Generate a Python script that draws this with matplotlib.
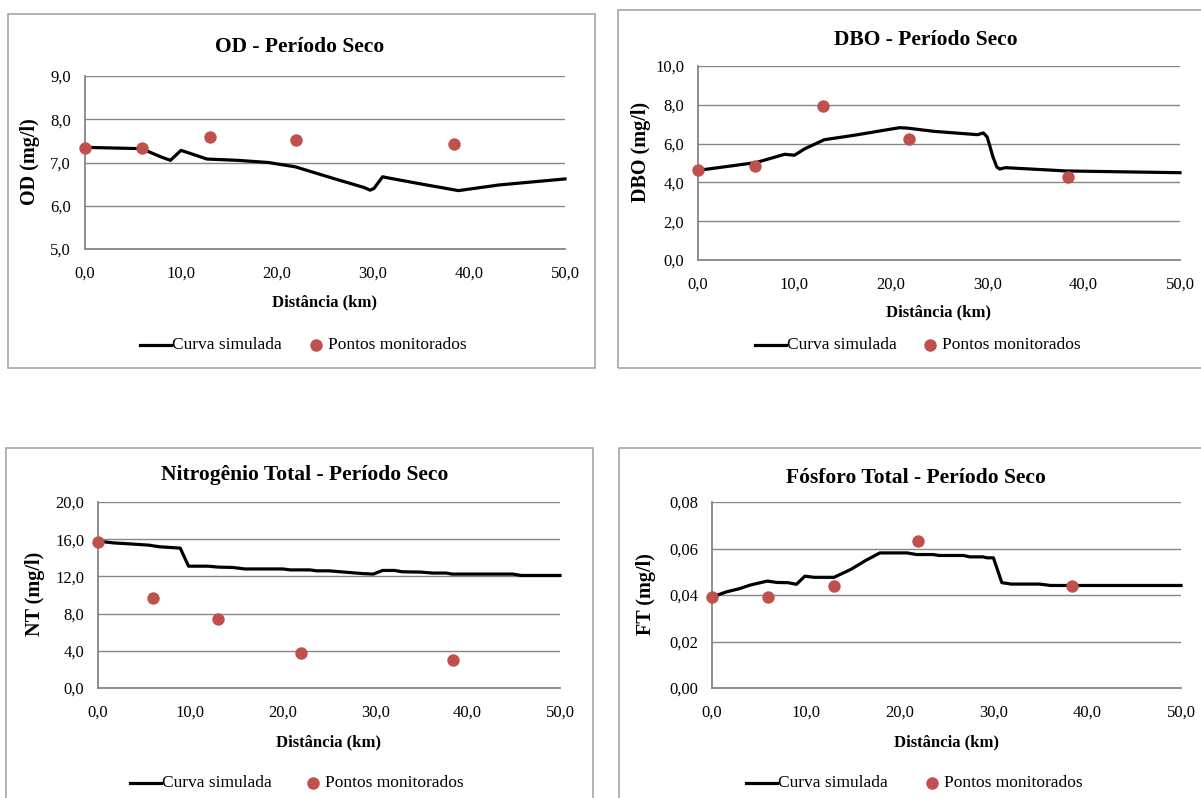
import matplotlib
matplotlib.use("Agg")
import matplotlib.pyplot as plt
from matplotlib.patches import Rectangle
from matplotlib.lines import Line2D
from matplotlib.ticker import FuncFormatter

plt.rcParams["font.family"] = ["Liberation Serif", "DejaVu Serif"]

# ---- data: distance along the river (km) and concentrations ----
od_sim_x = [0, 5.9, 7.9, 8.9, 10.0, 11.1, 12.7, 15.9, 19.1, 21.9, 25.9, 29.1, 29.7, 30.1,
            31.0, 31.9, 35.1, 38.9, 43.1, 50.0]
od_sim_y = [7.35, 7.32, 7.13, 7.05, 7.28, 7.20, 7.08, 7.05, 7.00, 6.90, 6.63, 6.42, 6.36, 6.40,
            6.67, 6.63, 6.50, 6.35, 6.48, 6.62]
od_obs_x = [0.0, 5.9, 13.0, 22.0, 38.4]
od_obs_y = [7.33, 7.33, 7.59, 7.52, 7.42]

dbo_sim_x = [0, 6.0, 9.0, 10.0, 11.1, 13.1, 16.2, 20.9, 21.7, 24.5, 29.0, 29.6, 30.0,
             30.6, 31.0, 31.3, 31.9, 38.2, 50.0]
dbo_sim_y = [4.62, 5.02, 5.45, 5.40, 5.74, 6.20, 6.43, 6.82, 6.80, 6.63, 6.46, 6.55, 6.34,
             5.31, 4.79, 4.69, 4.76, 4.59, 4.50]
dbo_obs_x = [0.0, 5.9, 13.0, 21.9, 38.4]
dbo_obs_y = [4.62, 4.85, 7.92, 6.25, 4.28]

nt_sim_x = [0, 1.7, 3.4, 5.5, 6.7, 8.0, 8.9, 9.8, 11.9, 13.0, 14.6, 15.9, 20.0, 20.8, 22.9,
            23.7, 25.0, 26.7, 28.7, 29.8, 30.8, 32.1, 32.9, 35.0, 36.2, 37.7, 38.3, 44.9,
            45.8, 50.0]
nt_sim_y = [15.79, 15.6, 15.5, 15.36, 15.18, 15.1, 15.04, 13.1, 13.1, 13.0, 12.96, 12.8, 12.8,
            12.7, 12.7, 12.6, 12.6, 12.46, 12.3, 12.25, 12.64, 12.64, 12.5, 12.46, 12.36,
            12.36, 12.25, 12.25, 12.1, 12.1]
nt_obs_x = [0.0, 6.0, 13.0, 22.0, 38.4]
nt_obs_y = [15.7, 9.7, 7.46, 3.79, 3.0]

ft_sim_x = [0, 1.5, 2.9, 4.1, 5.9, 6.9, 8.1, 9.0, 9.9, 10.9, 13.0, 14.8, 16.4, 17.9, 20.8,
            21.8, 23.6, 24.2, 26.8, 27.5, 28.9, 29.3, 30.0, 30.9, 31.9, 34.9, 36.1, 50.0]
ft_sim_y = [0.0391, 0.0413, 0.0427, 0.0443, 0.0460, 0.0454, 0.0453, 0.0446, 0.0481, 0.0476,
            0.0476, 0.0510, 0.0549, 0.0581, 0.0581, 0.0574, 0.0574, 0.0570, 0.0570, 0.0564,
            0.0564, 0.0560, 0.0560, 0.0453, 0.0447, 0.0447, 0.0441, 0.0441]
ft_obs_x = [0.0, 6.0, 13.0, 22.0, 38.4]
ft_obs_y = [0.0391, 0.0391, 0.0440, 0.0634, 0.0440]

titles = ["OD - Período Seco", "DBO - Período Seco",
          "Nitrogênio Total - Período Seco", "Fósforo Total - Período Seco"]
ylabels = ["OD (mg/l)", "DBO (mg/l)", "NT (mg/l)", "FT (mg/l)"]
xlabel = "Distância (km)"
legend_labels = ["Curva simulada", "Pontos monitorados"]
x_ticks = [0, 10, 20, 30, 40, 50]

W, H = 1201, 798
fig = plt.figure(figsize=(W / 100, H / 100), dpi=100)

GRID = "#868686"
BORDER = "#a6a6a6"
DOT = "#c0504d"


def fx(px):
    return px / W


def fy(py):
    return 1 - py / H


def comma(decimals):
    return FuncFormatter(lambda v, _: f"{v:.{decimals}f}".replace(".", ","))


panels = [
    # border box, axes box (l, r, t, b), y range / ticks, text anchor positions (pixels)
    dict(box=(8, 595, 14, 368), ax=(85, 565, 76, 249), ylim=(5, 9), yt=[5, 6, 7, 8, 9], dec=1,
         tx=300, ty=47, xly=302, ly=345, lx=140, dx=316, ylx=30, yly=162,
         sx=od_sim_x, sy=od_sim_y, ox=od_obs_x, oy=od_obs_y),
    dict(box=(618, 1205, 10, 368), ax=(698, 1180, 66, 260), ylim=(0, 10), yt=[0, 2, 4, 6, 8, 10], dec=1,
         tx=926, ty=40, xly=312, ly=345, lx=755, dx=930, ylx=641, yly=152,
         sx=dbo_sim_x, sy=dbo_sim_y, ox=dbo_obs_x, oy=dbo_obs_y),
    dict(box=(6, 593, 448, 802), ax=(98, 560, 502, 688), ylim=(0, 20), yt=[0, 4, 8, 12, 16, 20], dec=1,
         tx=305, ty=475, xly=742, ly=783, lx=130, dx=313, ylx=35, yly=594,
         sx=nt_sim_x, sy=nt_sim_y, ox=nt_obs_x, oy=nt_obs_y),
    dict(box=(619, 1205, 448, 802), ax=(712, 1181, 502, 688), ylim=(0, 0.08),
         yt=[0, 0.02, 0.04, 0.06, 0.08], dec=2,
         tx=916, ty=478, xly=742, ly=783, lx=746, dx=932, ylx=646, yly=594,
         sx=ft_sim_x, sy=ft_sim_y, ox=ft_obs_x, oy=ft_obs_y),
]

for i, p in enumerate(panels):
    bl, br, bt, bb = p["box"]
    fig.patches.append(Rectangle((fx(bl), fy(bb)), fx(br - bl), (bb - bt) / H,
                                 transform=fig.transFigure, fill=False,
                                 edgecolor=BORDER, linewidth=1.2, zorder=0))
    l, r, t, b = p["ax"]
    ax = fig.add_axes([fx(l), fy(b), fx(r - l), (b - t) / H])
    ax.set_xlim(0, 50)
    ax.set_ylim(*p["ylim"])
    ax.set_xticks(x_ticks)
    ax.set_yticks(p["yt"])
    ax.xaxis.set_major_formatter(comma(1))
    ax.yaxis.set_major_formatter(comma(p["dec"]))
    ax.tick_params(length=0, labelsize=12, colors="black")
    ax.tick_params(axis="x", pad=12)
    ax.tick_params(axis="y", pad=10)
    for side in ("top", "right"):
        ax.spines[side].set_visible(False)
    for side in ("left", "bottom"):
        ax.spines[side].set_color(GRID)
        ax.spines[side].set_linewidth(1.3)
    ax.grid(axis="y", color=GRID, linewidth=1.0)
    ax.set_axisbelow(True)

    ax.plot(p["sx"], p["sy"], color="black", linewidth=2.3, zorder=3, clip_on=False)
    ax.scatter(p["ox"], p["oy"], s=80, color=DOT, zorder=4, clip_on=False, linewidths=0)

    fig.text(fx(p["tx"]), fy(p["ty"]), titles[i], ha="center", va="center",
             fontsize=15.5, fontweight="bold")
    fig.text(fx((l + r) / 2), fy(p["xly"]), xlabel, ha="center", va="center",
             fontsize=12, fontweight="bold")
    fig.text(fx(p["ylx"]), fy(p["yly"]), ylabels[i], ha="center", va="center",
             rotation=90, fontsize=14.5, fontweight="bold")

    # legend row: simulated-curve sample line, its label, observed-point marker, its label
    ly = fy(p["ly"])
    fig.add_artist(Line2D([fx(p["lx"]), fx(p["lx"] + 31)], [ly, ly],
                          transform=fig.transFigure, color="black", linewidth=2.3))
    fig.text(fx(p["lx"] + 32), ly, legend_labels[0], ha="left", va="center", fontsize=12.5)
    fig.add_artist(Line2D([fx(p["dx"])], [ly], transform=fig.transFigure, color=DOT,
                          marker="o", markersize=9, markeredgewidth=0, linestyle="none"))
    fig.text(fx(p["dx"] + 12), ly, legend_labels[1], ha="left", va="center", fontsize=12.5)

fig.savefig("out.png", dpi=100)
